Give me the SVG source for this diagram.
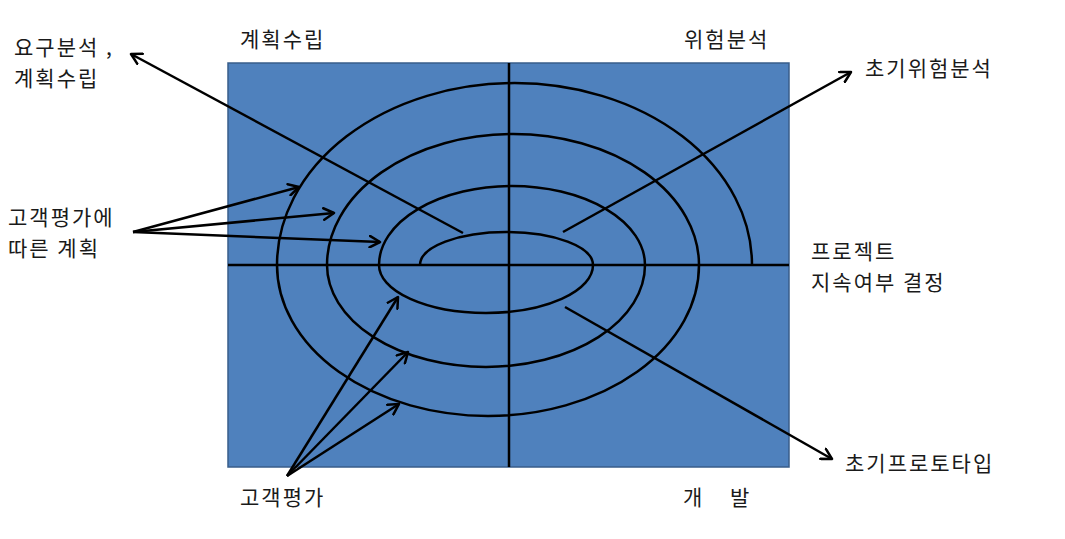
<svg xmlns="http://www.w3.org/2000/svg" width="1065" height="539" viewBox="0 0 1065 539">
<defs>
<marker id="ah" viewBox="0 0 12 12" refX="10" refY="6" markerWidth="5.5" markerHeight="5.5" markerUnits="strokeWidth" orient="auto">
<path d="M1,1 L10,6 L1,11" fill="none" stroke="#000" stroke-width="2.2" stroke-linecap="round" stroke-linejoin="round"/>
</marker>
<style>
.t{font-family:"Noto Sans CJK KR","Liberation Sans",sans-serif;font-size:21px;letter-spacing:2px;fill:#1a1a1a}
.ln{stroke:#000;stroke-width:2.5;fill:none}
.ar{stroke:#000;stroke-width:2.5;fill:none;marker-end:url(#ah)}
</style>
</defs>
<rect width="1065" height="539" fill="#fff"/>
<g id="quadrant">
<rect x="228" y="63" width="561" height="404" fill="#4F81BD" stroke="#385D8A" stroke-width="1.5"/>
<line class="ln" x1="228" y1="265" x2="789" y2="265"/>
<line class="ln" x1="509" y1="63" x2="509" y2="467"/>
</g>
<g id="spiral">
<path class="ln" d="M420,265 A86.5,33 0 0 1 593,265 A107,48 0 0 1 379,265 A133,79 0 0 1 645,265 A159,102 0 0 1 327,265 A186,131 0 0 1 699,265 A211,151 0 0 1 277,265 A237.5,182 0 0 1 752,265"/>
</g>
<g id="connectors">
<line class="ar" x1="463" y1="233" x2="131" y2="54"/>
<line class="ar" x1="563" y1="232" x2="851" y2="72"/>
<line class="ar" x1="565" y1="307" x2="832" y2="459"/>
<line class="ar" x1="133" y1="232" x2="299" y2="187"/>
<line class="ar" x1="133" y1="232" x2="334" y2="213"/>
<line class="ar" x1="133" y1="232" x2="380" y2="242"/>
<line class="ar" x1="287" y1="476" x2="398" y2="297"/>
<line class="ar" x1="287" y1="476" x2="408" y2="352"/>
<line class="ar" x1="287" y1="476" x2="399" y2="404"/>
</g>
<g id="labels">
<text class="t" x="14" y="55">요구분석 ,</text>
<text class="t" x="14" y="86">계획수립</text>
<text class="t" x="240" y="47">계획수립</text>
<text class="t" x="684" y="47">위험분석</text>
<text class="t" x="865" y="76">초기위험분석</text>
<text class="t" x="8" y="225">고객평가에</text>
<text class="t" x="8" y="256">따른 계획</text>
<text class="t" x="811" y="259">프로젝트</text>
<text class="t" x="811" y="290">지속여부 결정</text>
<text class="t" x="845" y="471">초기프로토타입</text>
<text class="t" x="240" y="505">고객평가</text>
<text class="t" x="683" y="505">개</text>
<text class="t" x="730" y="505">발</text>
</g>
</svg>
